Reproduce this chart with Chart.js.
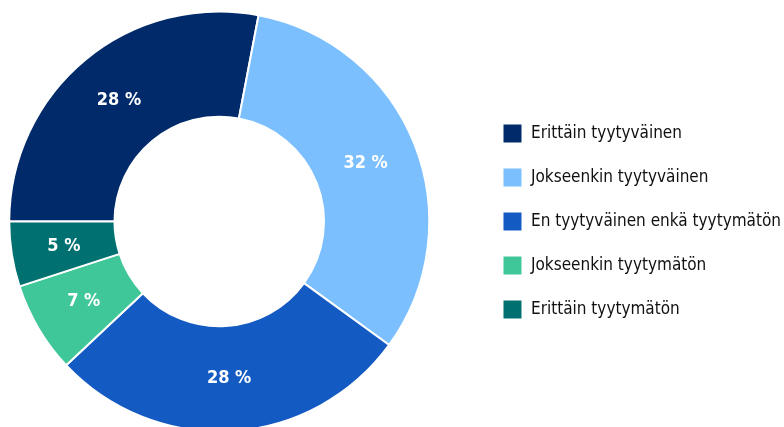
<!DOCTYPE html>
<html>
<head>
<meta charset="utf-8">
<script src="https://cdn.jsdelivr.net/npm/chart.js@4.4.0/dist/chart.umd.min.js"></script>
<style>
  html, body { margin: 0; padding: 0; background: #fff; overflow: hidden; }
  #wrap { position: absolute; left: -40px; top: 0; width: 831px; height: 443px; }
</style>
</head>
<body>
<div id="wrap"><canvas id="chart"></canvas></div>
<script>
const labels = [
  'Erittäin tyytyväinen',
  'Jokseenkin tyytyväinen',
  'En tyytyväinen enkä tyytymätön',
  'Jokseenkin tyytymätön',
  'Erittäin tyytymätön'
];
const values = [28, 32, 28, 7, 5];
const colors = ['#012a6b', '#7bbfff', '#135ac2', '#3fc79a', '#007170'];

const FONT = "'DejaVu Sans Condensed', 'Liberation Sans Narrow', sans-serif";

// white percentage labels in the middle of each slice
const sliceLabels = {
  id: 'sliceLabels',
  afterDatasetsDraw(chart) {
    const ctx = chart.ctx;
    const meta = chart.getDatasetMeta(0);
    ctx.save();
    ctx.fillStyle = '#fff';
    ctx.font = 'bold 18px ' + FONT;
    ctx.textAlign = 'center';
    ctx.textBaseline = 'middle';
    meta.data.forEach((arc, i) => {
      const p = arc.getCenterPoint();
      ctx.fillText(values[i] + ' %', p.x, p.y);
    });
    ctx.restore();
  }
};

new Chart(document.getElementById('chart'), {
  type: 'doughnut',
  data: {
    labels: labels,
    datasets: [{
      data: values,
      backgroundColor: colors,
      borderColor: '#ffffff',
      borderWidth: 2
    }]
  },
  options: {
    responsive: true,
    maintainAspectRatio: false,
    animation: false,
    rotation: -90,
    radius: 210,
    cutout: 110,
    plugins: {
      legend: {
        position: 'right',
        labels: {
          boxWidth: 20,
          boxHeight: 20,
          padding: 24,
          color: '#111',
          font: { family: FONT, size: 17 }
        }
      },
      tooltip: { enabled: false }
    }
  },
  plugins: [sliceLabels]
});
</script>
</body>
</html>
